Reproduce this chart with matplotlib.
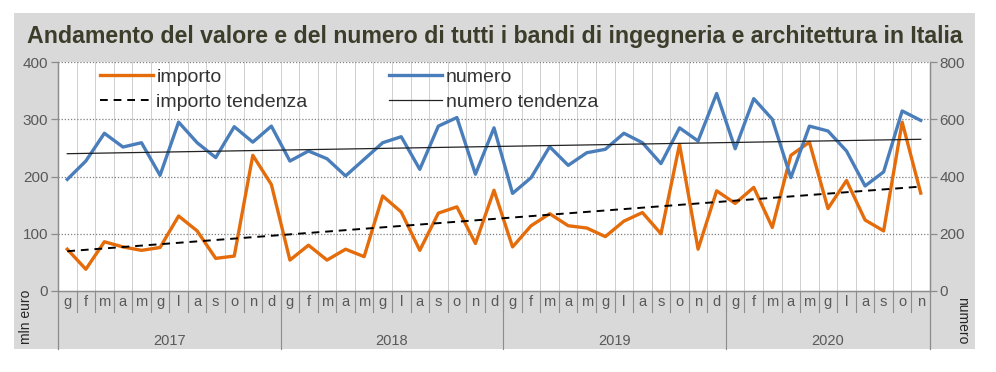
import numpy as np
import matplotlib
matplotlib.use("Agg")
import matplotlib.pyplot as plt
from matplotlib.patches import Rectangle

plt.rcParams['font.family'] = ['Liberation Sans', 'DejaVu Sans']

month_letters = ["g", "f", "m", "a", "m", "g", "l", "a", "s", "o", "n", "d"]
years = ["2017", "2018", "2019", "2020"]
months_per_year = [12, 12, 12, 11]

importo = [73, 38, 86, 77, 71, 76, 131, 105, 57, 61, 237, 186,
           54, 80, 54, 73, 60, 166, 138, 71, 136, 147, 83, 176,
           77, 114, 135, 114, 110, 95, 122, 137, 100, 256, 73, 175,
           153, 181, 111, 237, 260, 144, 193, 124, 105, 295, 171]
numero = [390, 454, 551, 503, 518, 404, 590, 518, 466, 574, 520, 576,
          454, 489, 462, 402, 460, 518, 539, 425, 576, 606, 408, 570,
          341, 396, 504, 439, 483, 495, 551, 518, 445, 570, 524, 690,
          497, 672, 600, 396, 576, 559, 489, 367, 416, 629, 596]

title = "Andamento del valore e del numero di tutti i bandi di ingegneria e architettura in Italia"

n = len(importo)
x = np.arange(n)
imp_fit = np.polyfit(x, importo, 1)
num_fit = np.polyfit(x, numero, 1)

ORANGE = "#E46C0A"
BLUE = "#4A7EBB"
GRAY_TXT = "#595959"
AXCOL = "#8C8C8C"

fig = plt.figure(figsize=(9.96, 3.72), dpi=100)
fig.patch.set_facecolor("white")
fig.patches.append(Rectangle((14/996, 1-349/372), (975-14)/996, (349-13)/372,
                             transform=fig.transFigure, facecolor="#D9D9D9",
                             edgecolor="none", zorder=-10))
fig.text(494.5/996, 1-37/372, title, ha="center", va="center", fontsize=16.65,
         fontweight="bold", color="#3D3D2B")

ax = fig.add_axes([58/996, 1-291/372, (930-58)/996, (291-62)/372])
ax.set_facecolor("white")
ax.set_xlim(-0.5, n-0.5)
ax.set_ylim(0, 400)
ax.set_yticks([0, 100, 200, 300, 400])
for yv in [100, 200, 300, 400]:
    ax.axhline(yv, color="#7F7F7F", lw=0.9, ls=(0, (1, 1.5)), zorder=1)
for b in np.arange(0.5, n-1, 1):
    ax.axvline(b, color="#D0D0D0", lw=0.7, zorder=0.5)

l1, = ax.plot(x, importo, color=ORANGE, lw=2.4, zorder=3)
l2, = ax.plot(x, np.polyval(imp_fit, x), color="black", lw=1.4, ls=(0, (4, 3)), zorder=4)

ax2 = ax.twinx()
ax2.set_ylim(0, 800)
ax2.set_yticks([0, 200, 400, 600, 800])
l3, = ax2.plot(x, numero, color=BLUE, lw=2.4, zorder=3)
l4, = ax2.plot(x, np.polyval(num_fit, x), color="#222222", lw=0.9, zorder=4)

for a in (ax, ax2):
    a.set_xticks([])
    a.spines["top"].set_visible(False)
    for s in ["left", "right", "bottom"]:
        a.spines[s].set_color(AXCOL)
        a.spines[s].set_linewidth(0.9)
    a.tick_params(axis="y", colors=AXCOL, labelcolor=GRAY_TXT, labelsize=11,
                  length=5, width=0.9, pad=2)

# month letters and separators
xt = ax.get_xaxis_transform()
m_sep = -(312-291)/229
y_sep = -(349-291)/229
idx = 0
for yr, nm in zip(years, months_per_year):
    for k in range(nm):
        ax.text(idx, -0.05, month_letters[k], transform=xt, ha="center", va="center",
                fontsize=10.5, color=GRAY_TXT)
        idx += 1
    start = idx - nm
    ax.text((start + idx - 1)/2, -0.22, yr, transform=xt, ha="center", va="center",
            fontsize=10.5, color=GRAY_TXT)
for b in np.arange(0.5, n-1, 1):
    ax.plot([b, b], [0, m_sep], transform=xt, color=AXCOL, lw=0.8, clip_on=False)
bounds = np.cumsum(months_per_year)[:-1] - 0.5
for b in bounds:
    ax.plot([b, b], [0, y_sep], transform=xt, color=AXCOL, lw=0.8, clip_on=False)
ax.plot([-0.5, -0.5], [0, y_sep], transform=xt, color=AXCOL, lw=0.9, clip_on=False)
ax.plot([n-0.5, n-0.5], [0, y_sep], transform=xt, color=AXCOL, lw=0.9, clip_on=False)

fig.text(26/996, 1-317/372, "mln euro", rotation=90, ha="center", va="center",
         fontsize=10, color="#262626")
fig.text(962/996, 1-321/372, "numero", rotation=270, ha="center", va="center",
         fontsize=10, color="#262626")

leg = ax2.legend([l1, l2, l3, l4], ["importo", "importo tendenza", "numero", "numero tendenza"],
                 ncol=2, loc="upper left", bbox_to_anchor=(42/872, 0.972), frameon=False,
                 fontsize=14, handlelength=2.7, columnspacing=4.2, labelspacing=0.36,
                 handletextpad=0.2, borderpad=0, borderaxespad=0)
for t in leg.get_texts():
    t.set_color("#333333")

fig.savefig("out.png", dpi=100, facecolor=fig.get_facecolor())
